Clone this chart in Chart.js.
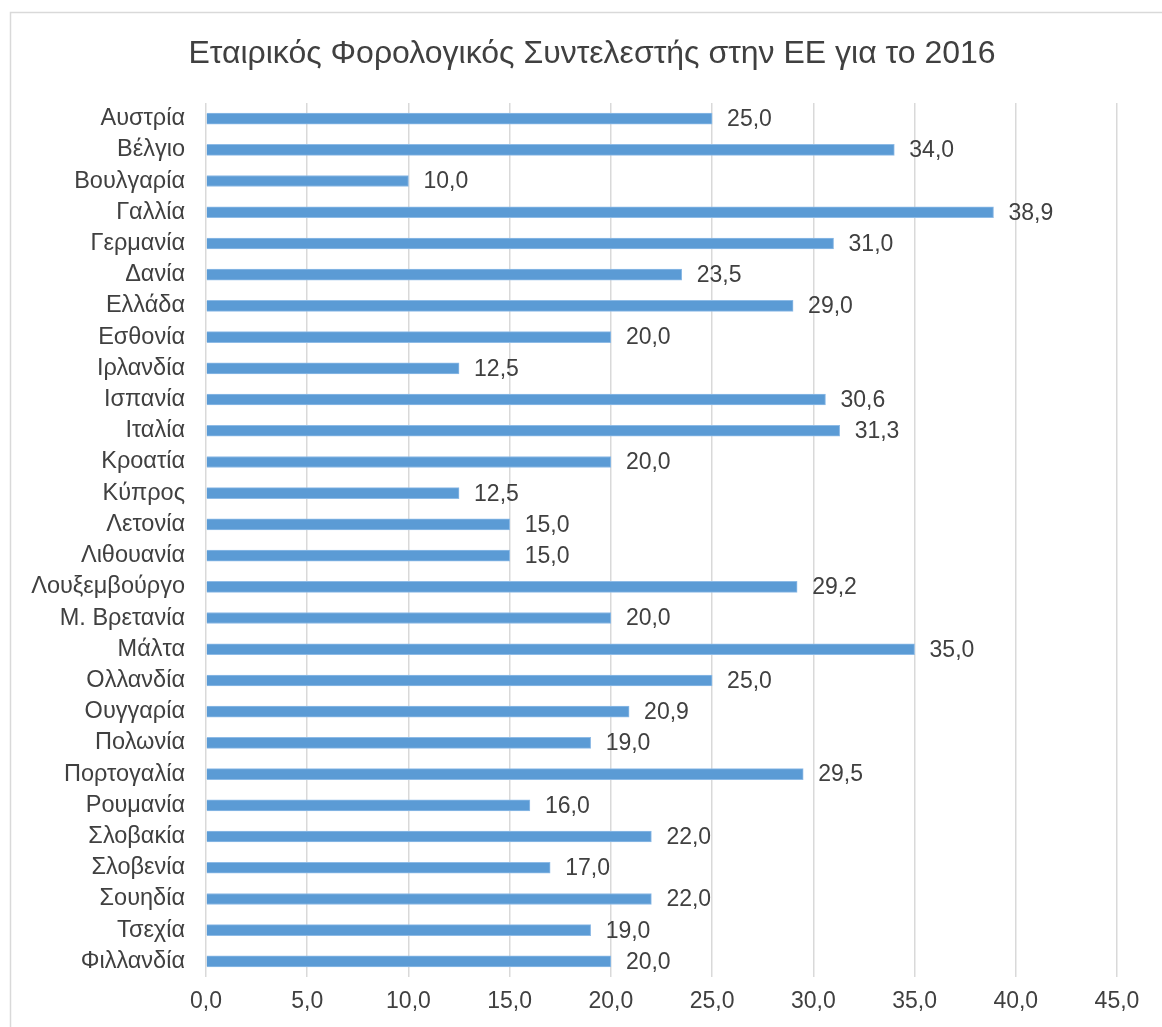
<!DOCTYPE html>
<html>
<head>
<meta charset="utf-8">
<title>Εταιρικός Φορολογικός Συντελεστής στην ΕΕ για το 2016</title>
<script src="https://cdn.jsdelivr.net/npm/chart.js@4.4.1/dist/chart.umd.min.js"></script>
<style>
    html, body { margin: 0; padding: 0; background: #fff; overflow: hidden; }
    #chart { display: block; }
</style>
</head>
<body>
<canvas id="chart" width="1162" height="1027"></canvas>
<script>
// Data
const chartTitle = 'Εταιρικός Φορολογικός Συντελεστής στην ΕΕ για το 2016';
const countries = [
    'Αυστρία', 'Βέλγιο', 'Βουλγαρία', 'Γαλλία', 'Γερμανία', 'Δανία', 'Ελλάδα',
    'Εσθονία', 'Ιρλανδία', 'Ισπανία', 'Ιταλία', 'Κροατία', 'Κύπρος', 'Λετονία',
    'Λιθουανία', 'Λουξεμβούργο', 'Μ. Βρετανία', 'Μάλτα', 'Ολλανδία', 'Ουγγαρία',
    'Πολωνία', 'Πορτογαλία', 'Ρουμανία', 'Σλοβακία', 'Σλοβενία', 'Σουηδία',
    'Τσεχία', 'Φιλλανδία'
];
const taxRates = [
    25.0, 34.0, 10.0, 38.9, 31.0, 23.5, 29.0,
    20.0, 12.5, 30.6, 31.3, 20.0, 12.5, 15.0,
    15.0, 29.2, 20.0, 35.0, 25.0, 20.9,
    19.0, 29.5, 16.0, 22.0, 17.0, 22.0,
    19.0, 20.0
];
const axisMin = 0;
const axisMax = 45;
const axisStep = 5;

const textColor = '#404040';
const fontFamily = "'Liberation Sans', Arial, Helvetica, sans-serif";

function fmt(v) {
    return Number(v).toFixed(1).replace('.', ',');
}

// Outer frame and title (title centred on the original frame, which is cropped on the right)
const framePlugin = {
    id: 'frame',
    beforeDraw(chart) {
        const ctx = chart.ctx;
        ctx.save();
        ctx.fillStyle = '#ffffff';
        ctx.fillRect(0, 0, chart.width, chart.height);
        ctx.strokeStyle = '#d9d9d9';
        ctx.lineWidth = 1.5;
        ctx.strokeRect(10.5, 12.5, 1300, 1200);
        ctx.restore();
    },
    afterDraw(chart) {
        const ctx = chart.ctx;
        ctx.save();
        ctx.fillStyle = textColor;
        ctx.font = '32px ' + fontFamily;
        ctx.textAlign = 'center';
        ctx.textBaseline = 'alphabetic';
        ctx.fillText(chartTitle, 592, 63);
        ctx.restore();
    }
};

// Value labels at the end of each bar
const valueLabels = {
    id: 'valueLabels',
    afterDatasetsDraw(chart) {
        const ctx = chart.ctx;
        const meta = chart.getDatasetMeta(0);
        ctx.save();
        ctx.fillStyle = textColor;
        ctx.font = '23px ' + fontFamily;
        ctx.textAlign = 'left';
        ctx.textBaseline = 'middle';
        meta.data.forEach((bar, i) => {
            ctx.fillText(fmt(taxRates[i]), bar.x + 15, bar.y + 1);
        });
        ctx.restore();
    }
};

new Chart(document.getElementById('chart'), {
    type: 'bar',
    data: {
        labels: countries,
        datasets: [{
            data: taxRates,
            backgroundColor: '#5b9bd5',
            borderColor: '#8ebbe6',
            borderWidth: 1,
            borderSkipped: 'start',
            barThickness: 11
        }]
    },
    options: {
        indexAxis: 'y',
        responsive: false,
        animation: false,
        events: [],
        layout: {
            padding: { left: 0, right: 45, top: 103, bottom: 0 }
        },
        plugins: {
            legend: { display: false },
            title: { display: false },
            tooltip: { enabled: false }
        },
        scales: {
            x: {
                min: axisMin,
                max: axisMax,
                border: { display: false },
                grid: {
                    color: '#d9d9d9',
                    lineWidth: 1.5,
                    drawTicks: false
                },
                ticks: {
                    stepSize: axisStep,
                    padding: 11,
                    color: textColor,
                    font: { size: 23, family: fontFamily },
                    callback: v => fmt(v)
                },
                afterFit(scale) { scale.height = 1027 - 977; }
            },
            y: {
                border: { display: false },
                grid: { display: false, drawTicks: false },
                ticks: {
                    padding: 21,
                    color: textColor,
                    autoSkip: false,
                    font: { size: 23.5, family: fontFamily }
                },
                afterFit(scale) { scale.width = 206; }
            }
        }
    },
    plugins: [framePlugin, valueLabels]
});
</script>
</body>
</html>
